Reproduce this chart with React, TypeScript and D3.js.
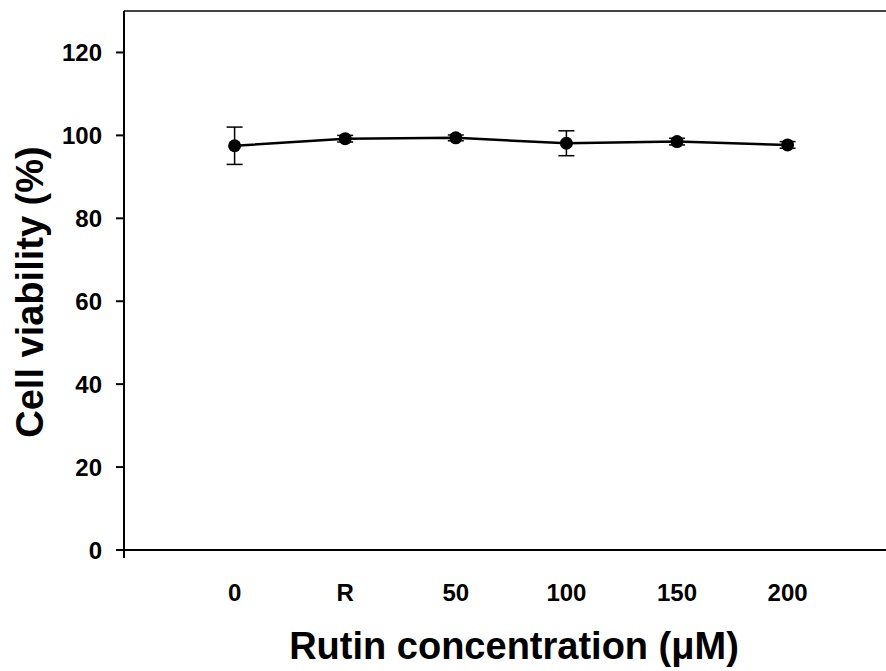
import React from "react";
import * as d3 from "d3";

const categories = ["0", "R", "50", "100", "150", "200"];
const viability = [97.5, 99.2, 99.4, 98.1, 98.5, 97.7];
const errors = [4.5, 0.8, 0.7, 3.0, 0.8, 0.8];
const yTicks = [0, 20, 40, 60, 80, 100, 120];

const App = () => {
  const width = 886;
  const height = 671;
  const left = 124;
  const top = 11;
  const bottom = 550;

  // categories sit at 0..5, axis starts one step to the left
  const xScale = d3.scaleLinear().domain([-1, 6]).range([left, left + 7 * 110.6]);
  const yScale = d3.scaleLinear().domain([0, 130]).range([bottom, top]);

  const line = d3
    .line<number>()
    .x((d, i) => xScale(i))
    .y((d) => yScale(d));

  const font = "'Liberation Sans', Arial, sans-serif";

  return (
    <svg
      width={width}
      height={height}
      style={{ position: "absolute", left: 0, top: 0, background: "#fff" }}
    >
      {/* frame: top border runs off the right edge */}
      <line x1={left} x2={width} y1={top} y2={top} stroke="#444" strokeWidth={2} />
      <line x1={left} x2={left} y1={top} y2={bottom} stroke="#000" strokeWidth={2} />
      <line x1={left - 1} x2={width} y1={bottom} y2={bottom} stroke="#000" strokeWidth={2} />
      <line x1={left} x2={left} y1={bottom} y2={bottom + 8} stroke="#000" strokeWidth={2} />

      {yTicks.map((t) => (
        <g key={t} transform={`translate(0,${yScale(t)})`}>
          <line x1={left - 8} x2={left} stroke="#000" strokeWidth={2} />
          <text
            x={left - 22}
            dy="0.36em"
            textAnchor="end"
            fontFamily={font}
            fontWeight="bold"
            fontSize={24}
          >
            {t}
          </text>
        </g>
      ))}

      {categories.map((c, i) => (
        <text
          key={c}
          x={xScale(i)}
          y={601}
          textAnchor="middle"
          fontFamily={font}
          fontWeight="bold"
          fontSize={24}
        >
          {c}
        </text>
      ))}

      <path d={line(viability) || ""} fill="none" stroke="#000" strokeWidth={2.5} />

      {viability.map((v, i) => {
        const x = xScale(i);
        const y1 = yScale(v + errors[i]);
        const y2 = yScale(v - errors[i]);
        return (
          <g key={i}>
            <line x1={x} x2={x} y1={y1} y2={y2} stroke="#000" strokeWidth={1.5} />
            <line x1={x - 8} x2={x + 8} y1={y1} y2={y1} stroke="#000" strokeWidth={1.5} />
            <line x1={x - 8} x2={x + 8} y1={y2} y2={y2} stroke="#000" strokeWidth={1.5} />
            <circle cx={x} cy={yScale(v)} r={6.5} fill="#000" />
          </g>
        );
      })}

      <text
        transform="translate(43,292) rotate(-90)"
        textAnchor="middle"
        fontFamily={font}
        fontWeight="bold"
        fontSize={38}
      >
        Cell viability (%)
      </text>
      <text
        x={514}
        y={659}
        textAnchor="middle"
        fontFamily={font}
        fontWeight="bold"
        fontSize={38}
      >
        Rutin concentration (μM)
      </text>
    </svg>
  );
};

export default App;
